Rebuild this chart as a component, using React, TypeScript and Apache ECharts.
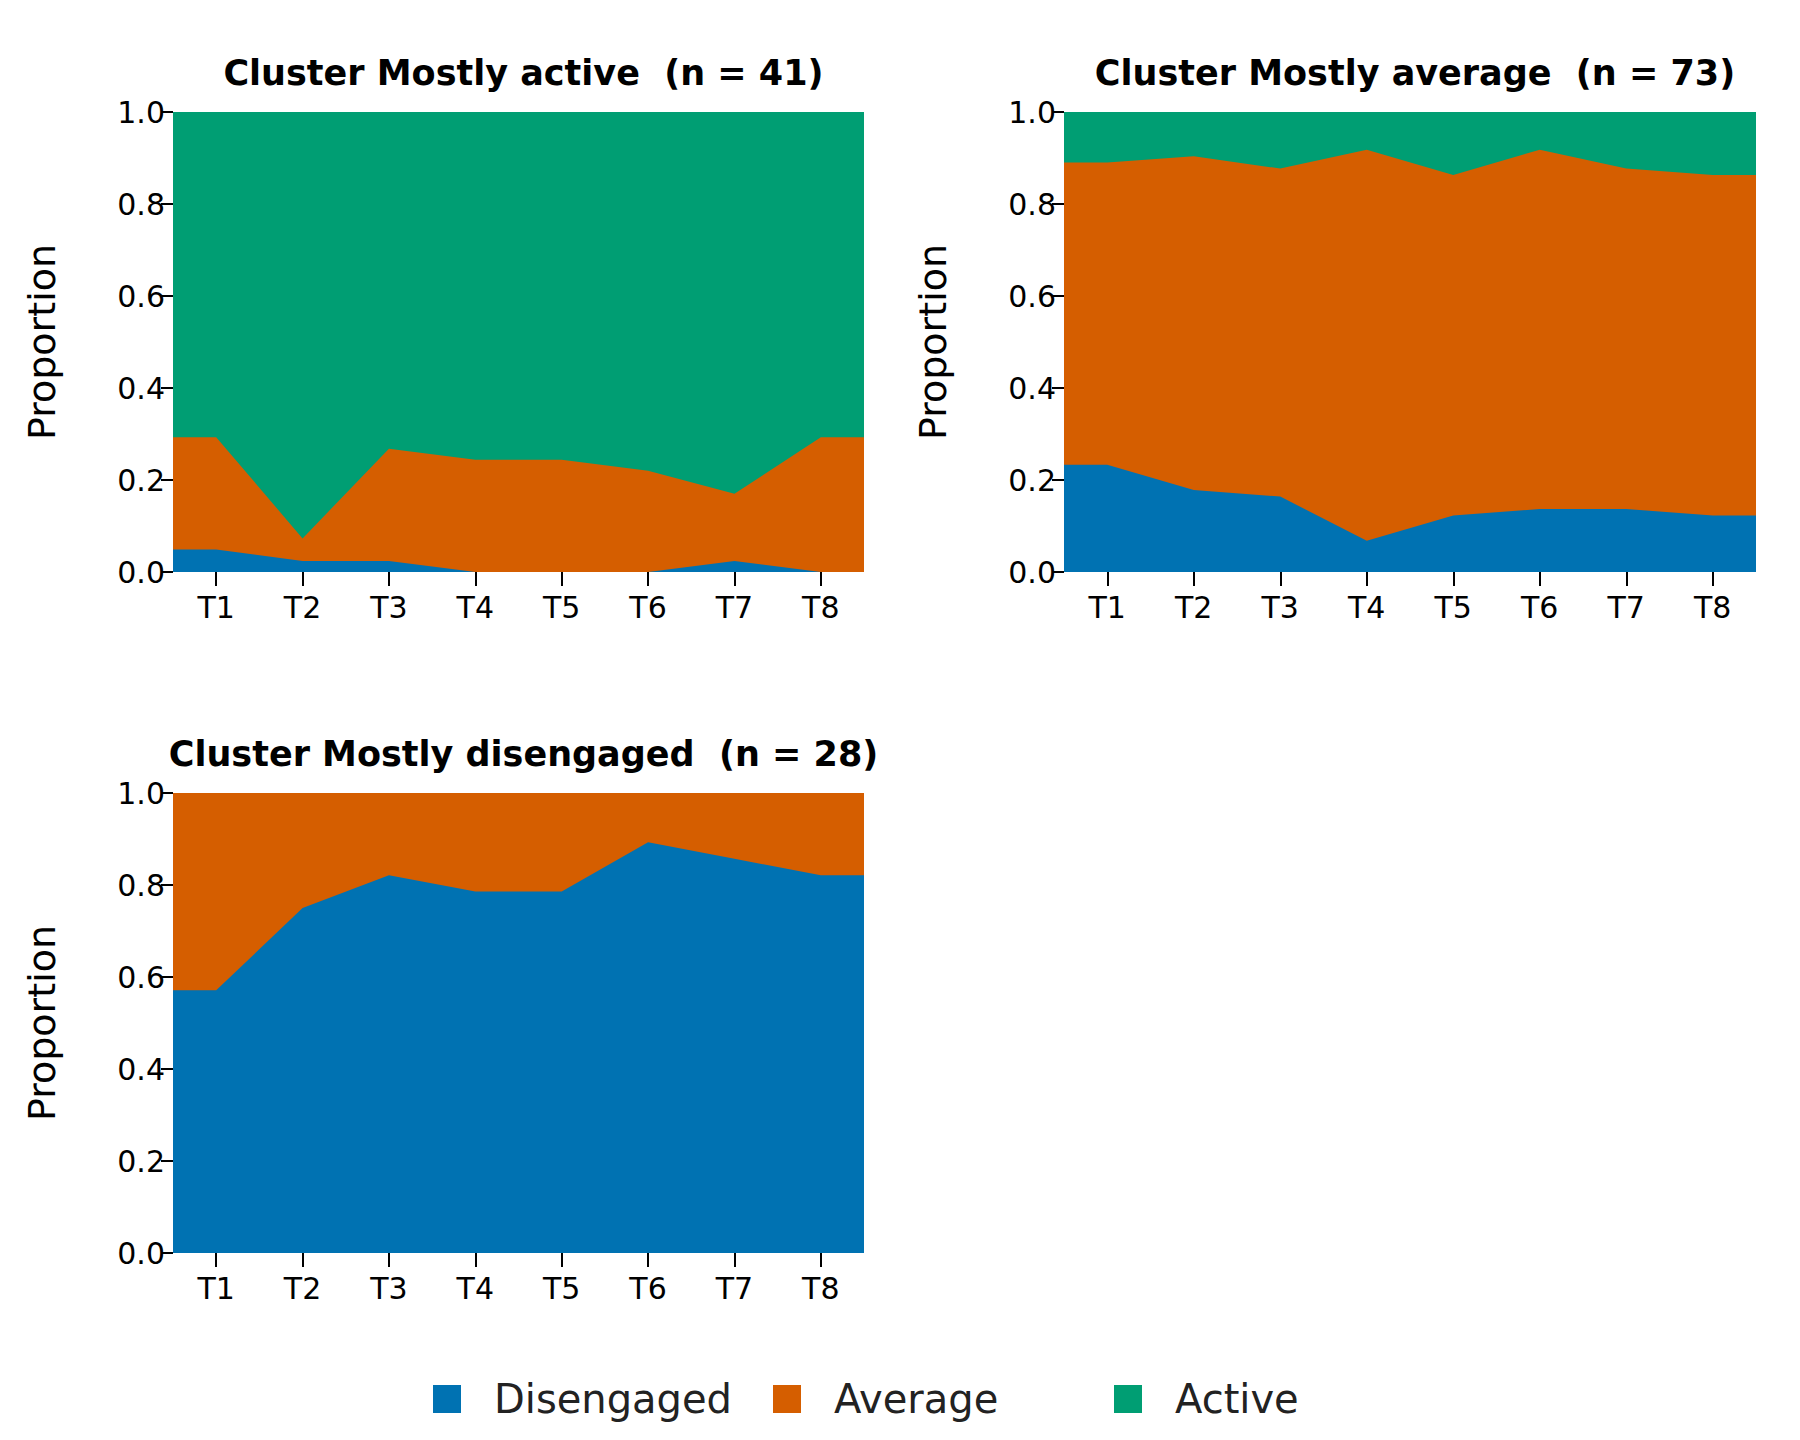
import React, { useEffect, useRef } from 'react';
import * as echarts from 'echarts';

const timePoints = ['T1', 'T2', 'T3', 'T4', 'T5', 'T6', 'T7', 'T8'];
const clusterTitles = [
  'Cluster Mostly active  (n = 41)',
  'Cluster Mostly average  (n = 73)',
  'Cluster Mostly disengaged  (n = 28)',
];
const stateNames = ['Disengaged', 'Average', 'Active'];
const stateColors = ['#0072b2', '#d55e00', '#009e73'];

// proportions per cluster, per state, per time point
const activeDisengaged = [0.049, 0.024, 0.024, 0, 0, 0, 0.024, 0];
const activeAverage = [0.244, 0.049, 0.244, 0.244, 0.244, 0.22, 0.146, 0.293];
const activeActive = [0.707, 0.927, 0.732, 0.756, 0.756, 0.78, 0.83, 0.707];

const averageDisengaged = [0.233, 0.178, 0.164, 0.068, 0.123, 0.137, 0.137, 0.123];
const averageAverage = [0.657, 0.726, 0.713, 0.85, 0.74, 0.781, 0.74, 0.74];
const averageActive = [0.11, 0.096, 0.123, 0.082, 0.137, 0.082, 0.123, 0.137];

const disDisengaged = [0.571, 0.75, 0.821, 0.786, 0.786, 0.893, 0.857, 0.821];
const disAverage = [0.429, 0.25, 0.179, 0.214, 0.214, 0.107, 0.143, 0.179];
const disActive = [0, 0, 0, 0, 0, 0, 0, 0];

const clusters = [
  [activeDisengaged, activeAverage, activeActive],
  [averageDisengaged, averageAverage, averageActive],
  [disDisengaged, disAverage, disActive],
];

const FONT = 'DejaVu Sans';

// extend each series half a step past T1 and T8 so the area fills the plot
const toPoints = (vals: number[]) => [
  [0.5, vals[0]],
  ...vals.map((v, i) => [i + 1, v]),
  [timePoints.length + 0.5, vals[vals.length - 1]],
];

// running totals of the states (bottom to top)
const cumulate = (states: number[][]) =>
  states.map((_, si) =>
    timePoints.map((_, ti) => {
      let s = 0;
      for (let k = 0; k <= si; k++) s += states[k][ti];
      return Math.min(1, s);
    })
  );

const App: React.FC = () => {
  const chartRef = useRef<HTMLDivElement>(null);

  useEffect(() => {
    if (!chartRef.current) return;
    const chart = echarts.init(chartRef.current, null, { renderer: 'svg' });

    const grids = [
      { left: 165, top: 104, width: 691, height: 460 },
      { left: 1056, top: 104, width: 692, height: 460 },
      { left: 165, top: 785, width: 691, height: 460 },
    ];

    const tickValues = timePoints.map((_, i) => i + 1);

    const option = {
      animation: false,
      backgroundColor: '#fff',
      textStyle: { fontFamily: FONT },
      title: grids.map((g, i) => ({
        text: clusterTitles[i],
        left: g.left + g.width / 2,
        top: g.top - 62,
        textAlign: 'center',
        textStyle: { fontFamily: FONT, fontSize: 35, fontWeight: 'bold', color: '#000' },
      })),
      grid: grids,
      xAxis: grids.map((_, i) => ({
        type: 'value',
        gridIndex: i,
        min: 0.5,
        max: timePoints.length + 0.5,
        splitLine: { show: false },
        axisLine: { show: false },
        axisTick: {
          show: true,
          inside: false,
          customValues: tickValues,
          length: 14,
          lineStyle: { color: '#000', width: 2 },
        },
        axisLabel: {
          customValues: tickValues,
          formatter: (v: number) => timePoints[v - 1] ?? '',
          fontFamily: FONT,
          fontSize: 30,
          color: '#000',
          margin: 20,
        },
      })),
      yAxis: grids.map((_, i) => ({
        type: 'value',
        gridIndex: i,
        min: 0,
        max: 1,
        interval: 0.2,
        name: 'Proportion',
        nameLocation: 'middle',
        nameGap: 112,
        nameTextStyle: { fontFamily: FONT, fontSize: 38, color: '#000' },
        splitLine: { show: false },
        axisLine: { show: false },
        axisTick: { show: true, inside: false, length: 12, lineStyle: { color: '#000', width: 2 } },
        axisLabel: {
          formatter: (v: number) => v.toFixed(1),
          fontFamily: FONT,
          fontSize: 30,
          color: '#000',
          margin: 8,
        },
      })),
      legend: stateNames.map((name, i) => ({
        data: [name],
        left: [420, 760, 1101][i],
        top: 1366,
        icon: 'rect',
        itemWidth: 28,
        itemHeight: 28,
        itemGap: 0,
        textStyle: { fontFamily: FONT, fontSize: 40, color: '#222', padding: [0, 0, 0, 28] },
      })),
      series: clusters.flatMap((states, ci) => {
        const cum = cumulate(states);
        // draw top layer first so lower layers paint over it
        return [2, 1, 0].map((si) => ({
          name: stateNames[si],
          type: 'line',
          xAxisIndex: ci,
          yAxisIndex: ci,
          data: toPoints(si === 2 ? timePoints.map(() => 1) : cum[si]),
          showSymbol: false,
          symbol: 'none',
          lineStyle: { width: 0 },
          itemStyle: { color: stateColors[si] },
          areaStyle: { color: stateColors[si], opacity: 1, origin: 'start' },
        }));
      }),
    };

    chart.setOption(option);
    return () => chart.dispose();
  }, []);

  return <div ref={chartRef} style={{ width: 1800, height: 1440 }} />;
};

export default App;
